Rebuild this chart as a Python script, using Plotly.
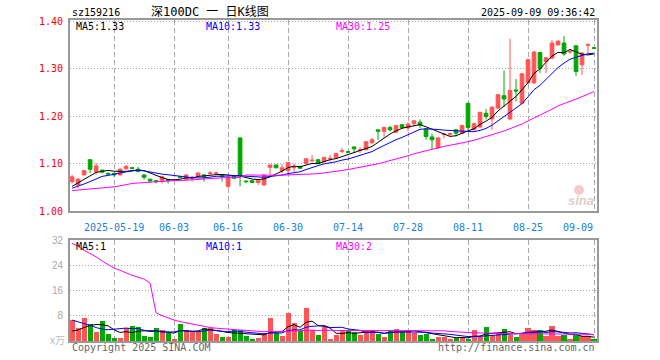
import plotly.graph_objects as go
import pandas as pd

# ---------------- data ----------------
opens = [1.062, 1.055, 1.076, 1.108, 1.083, 1.086, 1.079, 1.079, 1.076, 1.089,
         1.091, 1.088, 1.076, 1.067, 1.064, 1.062, 1.066, 1.065, 1.072, 1.067,
         1.070, 1.074, 1.076, 1.079, 1.079, 1.076, 1.052, 1.073, 1.154, 1.063,
         1.064, 1.060, 1.055, 1.092, 1.097, 1.085, 1.085, 1.091, 1.094, 1.100,
         1.106, 1.108, 1.104, 1.110, 1.112, 1.126, 1.125, 1.135, 1.128, 1.129,
         1.144, 1.171, 1.168, 1.176, 1.166, 1.182, 1.175, 1.184, 1.187, 1.173,
         1.156, 1.133, 1.161, 1.162, 1.171, 1.164, 1.227, 1.171, 1.177, 1.206,
         1.194, 1.217, 1.243, 1.194, 1.255, 1.227, 1.270, 1.270, 1.334, 1.315,
         1.322, 1.350, 1.354, 1.335, 1.348, 1.308, 1.349, 1.344]
highs = [1.076, 1.069, 1.086, 1.109, 1.101, 1.088, 1.082, 1.081, 1.090, 1.097,
         1.093, 1.093, 1.077, 1.068, 1.066, 1.074, 1.068, 1.068, 1.074, 1.077,
         1.074, 1.082, 1.078, 1.084, 1.083, 1.077, 1.072, 1.075, 1.155, 1.065,
         1.065, 1.066, 1.077, 1.098, 1.098, 1.099, 1.103, 1.100, 1.095, 1.111,
         1.118, 1.109, 1.114, 1.118, 1.123, 1.133, 1.127, 1.136, 1.135, 1.147,
         1.154, 1.172, 1.178, 1.180, 1.181, 1.183, 1.187, 1.191, 1.193, 1.174,
         1.163, 1.155, 1.165, 1.165, 1.172, 1.182, 1.228, 1.186, 1.209, 1.215,
         1.220, 1.247, 1.296, 1.363, 1.278, 1.290, 1.320, 1.337, 1.335, 1.324,
         1.360, 1.359, 1.369, 1.341, 1.350, 1.334, 1.354, 1.345]
lows = [1.058, 1.048, 1.075, 1.080, 1.077, 1.079, 1.075, 1.072, 1.075, 1.087,
        1.088, 1.082, 1.066, 1.060, 1.058, 1.058, 1.058, 1.063, 1.069, 1.066,
        1.062, 1.073, 1.062, 1.076, 1.077, 1.062, 1.048, 1.067, 1.052, 1.058,
        1.059, 1.055, 1.053, 1.074, 1.090, 1.080, 1.080, 1.081, 1.089, 1.098,
        1.102, 1.099, 1.102, 1.104, 1.110, 1.122, 1.122, 1.122, 1.122, 1.128,
        1.141, 1.150, 1.155, 1.168, 1.165, 1.175, 1.168, 1.178, 1.175, 1.150,
        1.130, 1.131, 1.153, 1.157, 1.157, 1.162, 1.171, 1.170, 1.176, 1.193,
        1.171, 1.215, 1.219, 1.192, 1.231, 1.226, 1.268, 1.268, 1.291, 1.291,
        1.322, 1.349, 1.327, 1.331, 1.285, 1.287, 1.333, 1.342]
closes = [1.072, 1.067, 1.085, 1.088, 1.095, 1.082, 1.078, 1.076, 1.088, 1.094,
          1.090, 1.083, 1.071, 1.063, 1.062, 1.072, 1.064, 1.066, 1.071, 1.076,
          1.071, 1.080, 1.072, 1.080, 1.080, 1.073, 1.071, 1.069, 1.075, 1.062,
          1.060, 1.065, 1.076, 1.097, 1.091, 1.091, 1.102, 1.092, 1.090, 1.110,
          1.107, 1.100, 1.113, 1.111, 1.121, 1.127, 1.124, 1.131, 1.129, 1.146,
          1.150, 1.168, 1.176, 1.171, 1.180, 1.176, 1.183, 1.190, 1.181, 1.157,
          1.150, 1.154, 1.162, 1.163, 1.164, 1.180, 1.176, 1.184, 1.208, 1.199,
          1.219, 1.245, 1.236, 1.254, 1.253, 1.289, 1.319, 1.335, 1.301, 1.323,
          1.354, 1.358, 1.331, 1.336, 1.294, 1.333, 1.350, 1.343]
volumes = [6.7, 4.0, 7.3, 5.4, 2.9, 6.5, 2.2, 0.9, 1.1, 4.3,
           4.8, 4.5, 1.6, 1.3, 4.3, 3.5, 2.7, 0.8, 5.4, 3.5,
           3.2, 3.2, 4.1, 4.3, 2.4, 1.3, 1.4, 3.4, 3.5, 1.7,
           0.8, 1.1, 2.7, 7.2, 2.5, 1.6, 8.8, 5.9, 3.2, 10.4,
           3.5, 1.8, 4.6, 0.6, 1.9, 3.2, 3.2, 3.0, 1.9, 3.2,
           3.5, 2.4, 1.3, 3.5, 3.8, 3.0, 3.5, 2.7, 1.9, 2.4,
           0.8, 1.3, 1.3, 0.8, 1.1, 1.1, 0.8, 3.5, 1.4, 4.5,
           1.9, 2.7, 3.8, 1.9, 1.3, 2.7, 4.3, 3.5, 3.5, 1.6,
           4.8, 1.6, 1.9, 0.6, 1.9, 1.6, 1.6, 0.4]

# moving-average values at the start of the window (read from the chart,
# they depend on sessions before the first visible candle)
ma5_head = [1.052, 1.059, 1.066, 1.074]
ma10_head = [1.048, 1.052, 1.057, 1.062, 1.067, 1.073, 1.075, 1.078, 1.080]
ma30_head = [1.043, 1.044, 1.045, 1.046, 1.048, 1.049, 1.050, 1.051, 1.053, 1.056,
             1.058, 1.059, 1.060, 1.061, 1.062, 1.063, 1.063, 1.064, 1.064, 1.065,
             1.066, 1.067, 1.068, 1.069, 1.069, 1.070, 1.070, 1.071, 1.071]
vol_ma5_head = [3.2, 3.5, 4.3, 5.0]
vol_ma10_head = [6.7, 6.2, 5.6, 5.0, 4.3, 3.8, 3.6, 3.7, 3.8]
vol_ma30_head = [31.2, 30.3, 29.0, 28.0, 26.9, 25.6, 24.4, 23.3, 22.6, 21.7,
                 21.0, 20.4, 19.8, 18.5, 9.0, 8.1, 7.3, 6.7, 6.2, 5.8,
                 5.4, 4.9, 4.6, 4.3, 4.1, 3.9, 3.8, 3.7, 3.5]

tick_idx = [7, 17, 26, 36, 46, 56, 66, 76, 87]
tick_labels = ["2025-05-19", "06-03", "06-16", "06-30", "07-14",
               "07-28", "08-11", "08-25", "09-09"]
price_ticks = [1.0, 1.1, 1.2, 1.3, 1.4]
vol_ticks = [8, 16, 24, 32]

# ---------------- helpers ----------------
RED = "#ff5555"
GREEN = "#00a800"
MONO = "DejaVu Sans Mono, Noto Sans CJK SC, monospace"

idx = list(range(len(closes)))


def with_head(values, window, head):
    s = pd.Series(values).rolling(window).mean()
    for i, v in enumerate(head):
        s.iloc[i] = v
    return s.round(4).tolist()


ma5 = with_head(closes, 5, ma5_head)
ma10 = with_head(closes, 10, ma10_head)
ma30 = with_head(closes, 30, ma30_head)
vma5 = with_head(volumes, 5, vol_ma5_head)
vma10 = with_head(volumes, 10, vol_ma10_head)
vma30 = with_head(volumes, 30, vol_ma30_head)

W, H = 660, 360
L, R, T, B = 70, 63, 20, 19
PW, PH = W - L - R, H - T - B


def px(x):
    return (x - L) / PW


def py(y):
    return (H - B - y) / PH


fig = go.Figure()

fig.add_trace(go.Candlestick(
    x=idx, open=opens, high=highs, low=lows, close=closes,
    increasing=dict(line=dict(color=RED, width=1), fillcolor=RED),
    decreasing=dict(line=dict(color=GREEN, width=1), fillcolor=GREEN),
    whiskerwidth=0, xaxis="x", yaxis="y", showlegend=False, hoverinfo="skip"))

for vals, col in [(ma5, "#000000"), (ma10, "#0000ff"), (ma30, "#ff00ff")]:
    fig.add_trace(go.Scatter(x=idx, y=vals, mode="lines", xaxis="x", yaxis="y",
                             line=dict(color=col, width=1), showlegend=False,
                             hoverinfo="skip"))

bar_colors = [RED if c >= o else GREEN for o, c in zip(opens, closes)]
fig.add_trace(go.Bar(x=idx, y=volumes, marker=dict(color=bar_colors, line=dict(width=0)),
                     width=0.84, xaxis="x2", yaxis="y2", showlegend=False,
                     hoverinfo="skip"))
for vals, col in [(vma5, "#000000"), (vma10, "#0000ff"), (vma30, "#ff00ff")]:
    fig.add_trace(go.Scatter(x=idx, y=vals, mode="lines", xaxis="x2", yaxis="y2",
                             line=dict(color=col, width=1), showlegend=False,
                             hoverinfo="skip"))

xr = [-0.35, 87.5]
common_x = dict(range=xr, showgrid=True, gridcolor="#aaaaaa", griddash="5px,3px",
                gridwidth=1, showline=True, mirror=True, linecolor="#999999",
                linewidth=2, ticks="", zeroline=False, tickvals=tick_idx,
                showticklabels=False, fixedrange=True)

fig.update_layout(
    width=W, height=H,
    margin=dict(l=L, r=R, t=T, b=B, pad=0),
    paper_bgcolor="white", plot_bgcolor="white",
    bargap=0, boxgap=0.12,
    xaxis=dict(**common_x, anchor="y", rangeslider=dict(visible=False)),
    xaxis2=dict(**common_x, anchor="y2"),
    yaxis=dict(domain=[py(211), 1], range=[1.0, 1.4025], tickvals=price_ticks,
               ticktext=["%.2f" % v for v in price_ticks],
               tickfont=dict(family=MONO, size=10, color="#ff0000"),
               showgrid=True, gridcolor="#aaaaaa", griddash="1px,2px",
               showline=True, mirror=True, linecolor="#999999", linewidth=2,
               ticks="", zeroline=False, ticklabelstandoff=3, fixedrange=True),
    yaxis2=dict(domain=[0, py(240)], range=[0, 32.3], tickvals=vol_ticks,
                ticktext=[str(v) for v in vol_ticks],
                tickfont=dict(family="Liberation Sans, sans-serif", size=10, color="#aaaaaa"),
                showgrid=True, gridcolor="#aaaaaa", griddash="1px,2px",
                showline=True, mirror=True, linecolor="#999999", linewidth=2,
                ticks="", zeroline=False, ticklabelstandoff=3, fixedrange=True),
)

# date labels under the price panel (last one right-aligned to stay inside)
for k, (ti, lab) in enumerate(zip(tick_idx, tick_labels)):
    last = k == len(tick_idx) - 1
    fig.add_annotation(x=ti, y=py(227), xref="x", yref="paper", text=lab,
                       showarrow=False, xanchor="right" if last else "center",
                       yanchor="middle", xshift=1 if last else 0,
                       font=dict(family=MONO, size=10, color="#1a80d8"))


def txt(x, y, s, color="#000000", anchor="left", size=10, family=MONO):
    fig.add_annotation(x=px(x), y=py(y), xref="paper", yref="paper", text=s,
                       showarrow=False, xanchor=anchor, yanchor="middle",
                       font=dict(family=family, size=size, color=color))


txt(70, 12, "sz159216")
txt(210, 12, "深100DC 一 日K线图", anchor="center", size=12)
txt(597, 12, "2025-09-09 09:36:42", anchor="right")

txt(74, 26, "MA5:1.33", "#000000")
txt(204, 26, "MA10:1.33", "#0000ff")
txt(334, 26, "MA30:1.25", "#ff00ff")

txt(74, 246, "MA5:1", "#000000")
txt(204, 246, "MA10:1", "#0000ff")
txt(334, 246, "MA30:2", "#ff00ff")

txt(70, 347, "Copyright 2025 SINA.COM", "#666666")
txt(597, 347, "http://finance.sina.com.cn", "#666666", anchor="right")
txt(57, 339, "x万", "#bbbbbb", anchor="center", size=10,
    family="Noto Sans CJK SC, sans-serif")

# sina watermark (eye logo + text)
fig.add_shape(type="circle", xref="paper", yref="paper",
              x0=px(574), x1=px(584), y0=py(195), y1=py(185),
              fillcolor="#f6caca", line=dict(width=0), layer="below")
txt(581, 200, "<b><i>sina</i></b>", "#e2cccc", anchor="center", size=13,
    family="Liberation Sans, sans-serif")

fig.write_html("out.html")
